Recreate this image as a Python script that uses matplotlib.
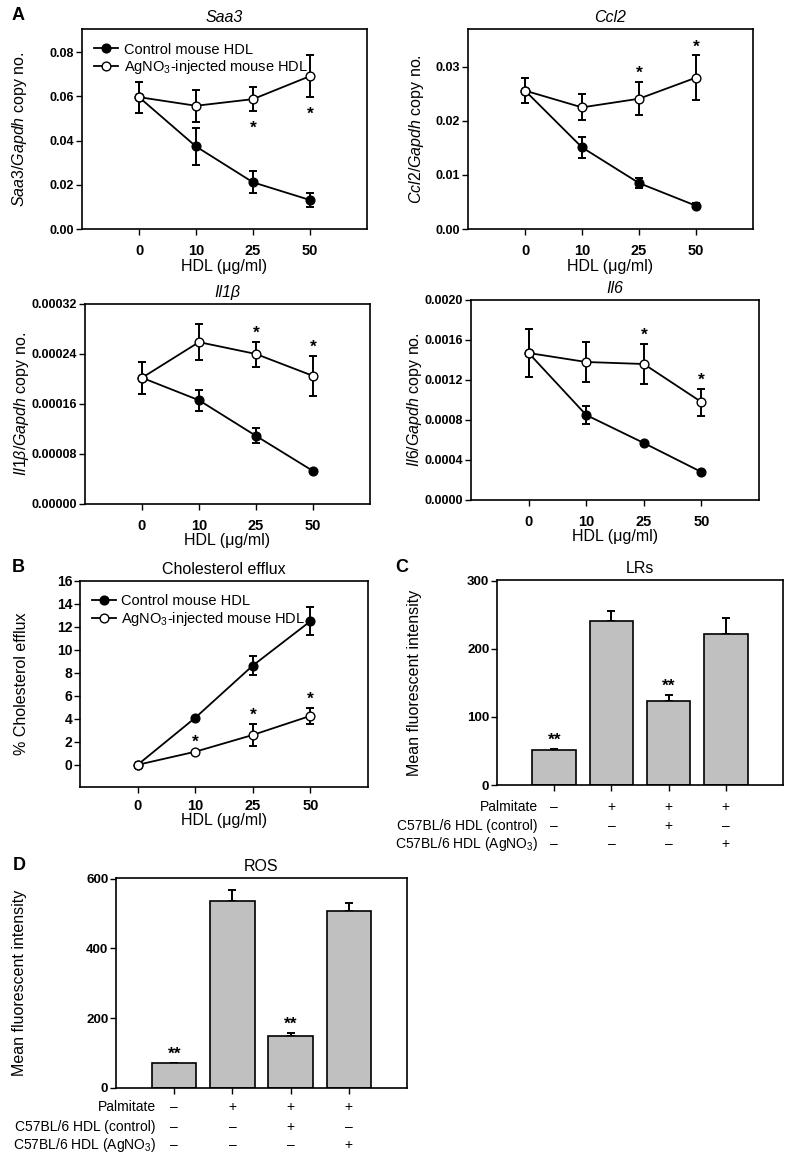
"""Recreates the multi panel HDL figure (A-D) with matplotlib."""
import numpy as np
import matplotlib.pyplot as plt

plt.rcParams['font.family'] = ['Liberation Sans', 'DejaVu Sans']
plt.rcParams['mathtext.fontset'] = 'custom'
plt.rcParams['mathtext.rm'] = 'Liberation Sans'
plt.rcParams['mathtext.it'] = 'Liberation Sans:italic'
plt.rcParams['mathtext.bf'] = 'Liberation Sans:bold'

# ---- data -------------------------------------------------------------
hdlDoses = ['0', '10', '25', '50']

saa3Control = [0.0596, 0.0373, 0.0211, 0.0131]
saa3ControlErr = [0.0070, 0.0082, 0.0049, 0.0030]
saa3Agno = [0.0596, 0.0557, 0.0587, 0.0691]
saa3AgnoErr = [0.0070, 0.0072, 0.0055, 0.0095]

ccl2Control = [0.0256, 0.0151, 0.0085, 0.0043]
ccl2ControlErr = [0.0023, 0.0019, 0.0009, 0.0005]
ccl2Agno = [0.0256, 0.0225, 0.0241, 0.0280]
ccl2AgnoErr = [0.0023, 0.0024, 0.0031, 0.0041]

il1bControl = [0.000202, 0.000166, 0.000109, 0.0000528]
il1bControlErr = [0.000026, 0.000017, 0.000012, 0.000002]
il1bAgno = [0.000202, 0.000259, 0.000240, 0.000205]
il1bAgnoErr = [0.000026, 0.000029, 0.000020, 0.000032]

il6Control = [0.00147, 0.00085, 0.00057, 0.00028]
il6ControlErr = [0.00024, 0.00009, 0.00001, 0.00001]
il6Agno = [0.00147, 0.00138, 0.00136, 0.00098]
il6AgnoErr = [0.00024, 0.00020, 0.00020, 0.000135]

effluxControl = [0.0, 4.09, 8.64, 12.5]
effluxControlErr = [0.0, 0.1, 0.83, 1.2]
effluxAgno = [0.0, 1.14, 2.6, 4.26]
effluxAgnoErr = [0.0, 0.1, 0.93, 0.72]

lrValues = [50.8, 240.8, 124.0, 221.8]
lrErr = [2.2, 14.7, 8.0, 24.0]
rosValues = [71.0, 534.7, 148.0, 507.0]
rosErr = [2.0, 33.0, 8.5, 22.0]

treatmentRows = ['Palmitate', 'C57BL/6 HDL (control)', r'C57BL/6 HDL (AgNO$_3$)']
treatmentSigns = [['–', '+', '+', '+'],
                  ['–', '–', '+', '–'],
                  ['–', '–', '–', '+']]

W, H = 791, 1156
fig = plt.figure(figsize=(W / 100, H / 100), dpi=100)


def px_axes(left, top, right, bottom):
	""" Adds axes placed in pixel coordinates of the figure."""
	return fig.add_axes([left / W, 1 - bottom / H, (right - left) / W, (bottom - top) / H])


def style_axes(ax, yTickSize):
	for spine in ax.spines.values():
		spine.set_linewidth(1.2)
	ax.tick_params(axis='y', direction='out', length=4, width=1, pad=1.5, labelsize=yTickSize)
	for lab in ax.get_yticklabels():
		lab.set_fontweight('bold')


def line_panel(ax, control, controlErr, agno, agnoErr, yLim, yTicks, fmt, title, yLabel,
			   stars, starBelow=False, legend=False, yLabelOff=60, xLabelOff=34, yTickSize=9,
			   titleStyle='italic', tickPad=6.5):
	""" Draws one dose-response panel."""
	x = np.arange(len(hdlDoses))
	ax.errorbar(x, control, yerr=controlErr, fmt='none', ecolor='black', elinewidth=1.4,
				capsize=3, capthick=1.4, zorder=2)
	ax.errorbar(x, agno, yerr=agnoErr, fmt='none', ecolor='black', elinewidth=1.4,
				capsize=3, capthick=1.4, zorder=2)
	ax.plot(x, control, color='black', lw=1.3, marker='o', ms=6.3, mfc='black', mec='black',
			label='Control mouse HDL', zorder=3)
	ax.plot(x, agno, color='black', lw=1.3, marker='o', ms=6.3, mfc='white', mec='black',
			mew=1, label=r'AgNO$_3$-injected mouse HDL', zorder=4)
	for i in stars:
		if starBelow:
			ax.annotate('*', (x[i], agno[i] - agnoErr[i]), xytext=(0, -15.4), textcoords='offset points',
						ha='center', va='baseline', fontsize=12.5, fontweight='bold')
		else:
			ax.annotate('*', (x[i], agno[i] + agnoErr[i]), xytext=(0, 3), textcoords='offset points',
						ha='center', va='baseline', fontsize=12.5, fontweight='bold')
	ax.set_xlim(-1, 4)
	ax.set_ylim(*yLim)
	ax.set_xticks(x)
	ax.set_xticklabels(hdlDoses, fontsize=10.5, fontweight='bold')
	ax.tick_params(axis='x', direction='out', length=4, width=1, pad=tickPad)
	ax.set_yticks(yTicks)
	ax.set_yticklabels([fmt.format(v) for v in yTicks])
	style_axes(ax, yTickSize)
	ax.set_title(title, fontsize=11.5, style=titleStyle, pad=5)
	ax.set_ylabel(yLabel, fontsize=11.5, va='center')
	ax.yaxis.set_label_coords(-yLabelOff / ax.bbox.width, 0.5)
	ax.set_xlabel('HDL (μg/ml)', fontsize=11.5, va='center')
	ax.xaxis.set_label_coords(0.5, -xLabelOff / ax.bbox.height)
	if legend:
		ax.legend(loc='upper left', bbox_to_anchor=(-0.018, 1.02), frameon=False, fontsize=10.5,
				  handlelength=1.6, handletextpad=0.4, labelspacing=0.1, borderpad=0.7)


def bar_panel(ax, values, errs, yMax, yTicks, title, starBars, yLabelOff, rowY, rowLabelX):
	""" Draws one bar panel with the treatment table under it."""
	x = np.arange(len(values))
	ax.bar(x, values, width=0.76, color='#c0c0c0', edgecolor='black', linewidth=1.2, zorder=2)
	ax.errorbar(x, values, yerr=[np.zeros(len(errs)), errs], fmt='none', ecolor='black',
				elinewidth=1.4, capsize=3, capthick=1.4, zorder=1)
	for i in starBars:
		ax.annotate('**', (x[i], values[i] + errs[i]), xytext=(0, 3), textcoords='offset points',
					ha='center', va='baseline', fontsize=12.5, fontweight='bold')
	ax.set_xlim(-1, 4)
	ax.set_ylim(0, yMax)
	ax.set_xticks(x)
	ax.set_xticklabels([])
	ax.tick_params(axis='x', direction='out', length=4, width=1)
	ax.set_yticks(yTicks)
	ax.set_yticklabels([str(v) for v in yTicks])
	style_axes(ax, 9.6)
	ax.set_title(title, fontsize=11.5, pad=5)
	ax.set_ylabel('Mean fluorescent intensity', fontsize=11.5, va='center')
	ax.yaxis.set_label_coords(-yLabelOff / ax.bbox.width, 0.5)
	trans = ax.get_xaxis_transform()
	for r, label in enumerate(treatmentRows):
		ax.text(rowLabelX, rowY[r], label, transform=ax.transAxes, ha='right', va='center',
				fontsize=10, clip_on=False)
		for i, sign in enumerate(treatmentSigns[r]):
			ax.text(x[i], rowY[r], sign, transform=trans, ha='center', va='center',
					fontsize=10, clip_on=False)


# ---- panel A ----------------------------------------------------------
axSaa3 = px_axes(82, 29, 367, 229)
line_panel(axSaa3, saa3Control, saa3ControlErr, saa3Agno, saa3AgnoErr, (0, 0.0904),
		   [0, 0.02, 0.04, 0.06, 0.08], '{:.2f}', 'Saa3', r'$\mathit{Saa3/Gapdh}$ copy no.',
		   stars=[2, 3], starBelow=True, legend=True, yLabelOff=62, xLabelOff=38)

axCcl2 = px_axes(468, 29, 753, 229)
line_panel(axCcl2, ccl2Control, ccl2ControlErr, ccl2Agno, ccl2AgnoErr, (0, 0.037),
		   [0, 0.01, 0.02, 0.03], '{:.2f}', 'Ccl2', r'$\mathit{Ccl2/Gapdh}$ copy no.',
		   stars=[2, 3], yLabelOff=51, xLabelOff=38)

axIl1b = px_axes(85, 304, 370, 504)
line_panel(axIl1b, il1bControl, il1bControlErr, il1bAgno, il1bAgnoErr, (0, 0.00032),
		   [0, 0.00008, 0.00016, 0.00024, 0.00032], '{:.5f}', 'Il1β',
		   r'$\mathit{Il1\beta/Gapdh}$ copy no.', stars=[2, 3], yLabelOff=63, xLabelOff=36)

axIl6 = px_axes(471, 300, 759, 500)
line_panel(axIl6, il6Control, il6ControlErr, il6Agno, il6AgnoErr, (0, 0.0020),
		   [0, 0.0004, 0.0008, 0.0012, 0.0016, 0.0020], '{:.4f}', 'Il6',
		   r'$\mathit{Il6/Gapdh}$ copy no.', stars=[2, 3], yLabelOff=56, xLabelOff=37)

# ---- panel B ----------------------------------------------------------
axEfflux = px_axes(80, 581, 368, 787)
line_panel(axEfflux, effluxControl, effluxControlErr, effluxAgno, effluxAgnoErr, (-1.93, 16),
		   list(range(0, 17, 2)), '{:d}', 'Cholesterol efflux', '% Cholesterol efflux',
		   stars=[1, 2, 3], legend=True, yLabelOff=58, xLabelOff=34, yTickSize=10,
		   titleStyle='normal', tickPad=4.5)

# ---- panels C and D ---------------------------------------------------
axLr = px_axes(497, 580, 783, 785)
bar_panel(axLr, lrValues, lrErr, 301, [0, 100, 200, 300], 'LRs', [0, 2], 82,
		  [-0.107, -0.2, -0.288], 0.143)

axRos = px_axes(116, 878, 407, 1088)
bar_panel(axRos, rosValues, rosErr, 602, [0, 200, 400, 600], 'ROS', [0, 2], 96,
		  [-0.09, -0.186, -0.271], 0.137)

# panel letters
for letter, (lx, ly) in zip('ABCD', [(18, 16), (18, 567), (402, 567), (19, 865)]):
	fig.text(lx / W, 1 - ly / H, letter, fontsize=13, fontweight='bold', ha='center', va='center')

plt.savefig('out.png', dpi=100)
